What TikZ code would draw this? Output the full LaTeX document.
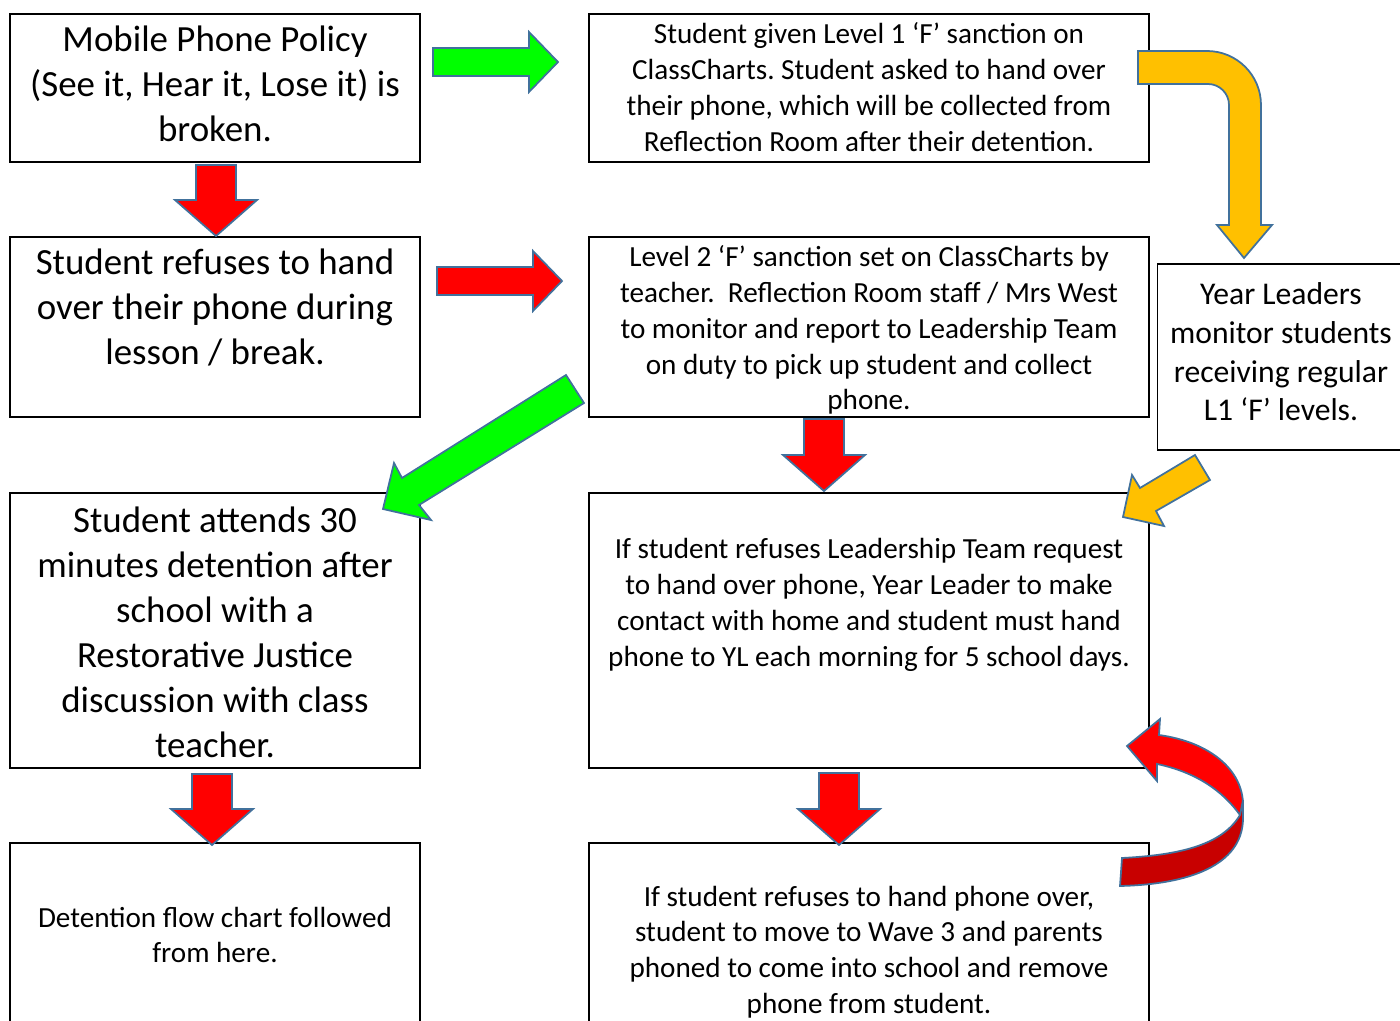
\documentclass[tikz,border=0pt]{standalone}
\usepackage{fontspec}
\setmainfont{Carlito}
\usepackage{tikz}
\frenchspacing
\definecolor{blkline}{RGB}{65,113,156}
\definecolor{amber}{RGB}{255,192,0}
\definecolor{darkred}{RGB}{200,0,0}
\tikzset{
  box/.style={draw,line width=1.1pt,minimum width=#1,inner sep=0pt},
  bigtxt/.style={align=center,font=\fontsize{21}{25.6}\selectfont},
  smalltxt/.style={align=center,font=\fontsize{16.6}{20.4}\selectfont},
  blk/.style={draw=blkline,line width=1pt,line join=miter}
}
\newcommand{\dnblk}[3]{\draw[blk,fill=red] (#1-20,#2) -- (#1+20,#2) -- (#1+20,#3-36) -- (#1+41,#3-36) -- (#1,#3) -- (#1-41,#3-36) -- (#1-20,#3-36) -- cycle;}
\newcommand{\rtblk}[4]{\draw[blk,fill=#1] (#2,#3-14) -- (#4-29,#3-14) -- (#4-29,#3-30) -- (#4,#3) -- (#4-29,#3+30) -- (#4-29,#3+14) -- (#2,#3+14) -- cycle;}

\begin{document}
\begin{tikzpicture}[x=0.02cm,y=-0.02cm]
\useasboundingbox (0,0) rectangle (1400,1021);

\node[box=8.2cm,minimum height=2.96cm] (policy) at (215,88) {};
\node[box=8.2cm,minimum height=3.6cm] (refuse) at (215,327) {};
\node[box=8.2cm,minimum height=5.5cm] (attend) at (215,630.5) {};
\node[box=8.2cm,minimum height=3.74cm] (detent) at (215,936.5) {};
\node[box=11.2cm,minimum height=2.96cm] (level1) at (869,88) {};
\node[box=11.2cm,minimum height=3.6cm] (level2) at (869,327) {};
\node[box=11.2cm,minimum height=5.5cm] (leader) at (869,630.5) {};
\node[box=11.2cm,minimum height=3.74cm] (wave3) at (869,936.5) {};
\node[draw,line width=0.6pt,minimum width=5.06cm,minimum height=3.72cm] (yearl) at (1283.5,357) {};

\node[bigtxt] (policyt) at (215,84) {Mobile Phone Policy\\(See it, Hear it, Lose it) is\\broken.};
\node[bigtxt] (refuset) at (215,307) {Student refuses to hand\\over their phone during\\lesson / break.};
\node[bigtxt] (attendt) at (215,632) {Student attends 30\\minutes detention after\\school with a\\Restorative Justice\\discussion with class\\teacher.};
\node[smalltxt] (detentt) at (215,935) {Detention flow chart followed\\from here.};
\node[smalltxt] (level1t) at (869,87) {Student given Level 1 ‘F’ sanction on\\ClassCharts. Student asked to hand over\\their phone, which will be collected from\\Reflection Room after their detention.};
\node[smalltxt] (level2t) at (869,330) {Level 2 ‘F’ sanction set on ClassCharts by\\teacher.\ \ Reflection Room staff / Mrs West\\to monitor and report to Leadership Team\\on duty to pick up student and collect\\phone.};
\node[align=center,font=\fontsize{18}{22}\selectfont] (yearlt) at (1281,352) {Year Leaders\\monitor students\\receiving regular\\L1 ‘F’ levels.};
\node[smalltxt] (leadert) at (869,605) {If student refuses Leadership Team request\\to hand over phone, Year Leader to make\\contact with home and student must hand\\phone to YL each morning for 5 school days.};
\node[smalltxt] (wave3t) at (869,952) {If student refuses to hand phone over,\\student to move to Wave 3 and parents\\phoned to come into school and remove\\phone from student.};

\rtblk{green}{433}{62}{558}
\rtblk{red}{437}{281}{562}
\dnblk{216}{165}{236}
\dnblk{824}{419}{491}
\dnblk{212}{774}{845}
\dnblk{839}{773}{845}

\draw[blk,fill=green] (566,375) -- (402,478) -- (394,463) -- (383,509) -- (431,520) -- (419,505) -- (584,403) -- cycle;
\draw[blk,fill=amber] (1195,455) -- (1140,488) -- (1132,475) -- (1123,517) -- (1164,526) -- (1156,511) -- (1210,480) -- cycle;
\draw[blk,fill=amber] (1138,51) -- (1207,51) arc[start angle=90,end angle=0,radius=1.08cm]
  -- (1261,225) -- (1272,225) -- (1244,258) -- (1217,225) -- (1229,225) -- (1229,105)
  arc[start angle=0,end angle=90,radius=0.42cm] -- (1138,84) -- cycle;

\draw[blk,fill=red] (1127,746) -- (1160,719) -- (1159,735) .. controls (1210,742) and (1243,770) .. (1243,805)
  -- (1240,815) .. controls (1222,790) and (1195,772) .. (1157,764) -- (1157,781) -- cycle;
\draw[blk,fill=darkred] (1240,815) .. controls (1222,845) and (1180,855) .. (1122,858) -- (1120,886)
  .. controls (1200,884) and (1243,860) .. (1243,818) -- (1243,800) -- cycle;

\end{tikzpicture}
\end{document}
